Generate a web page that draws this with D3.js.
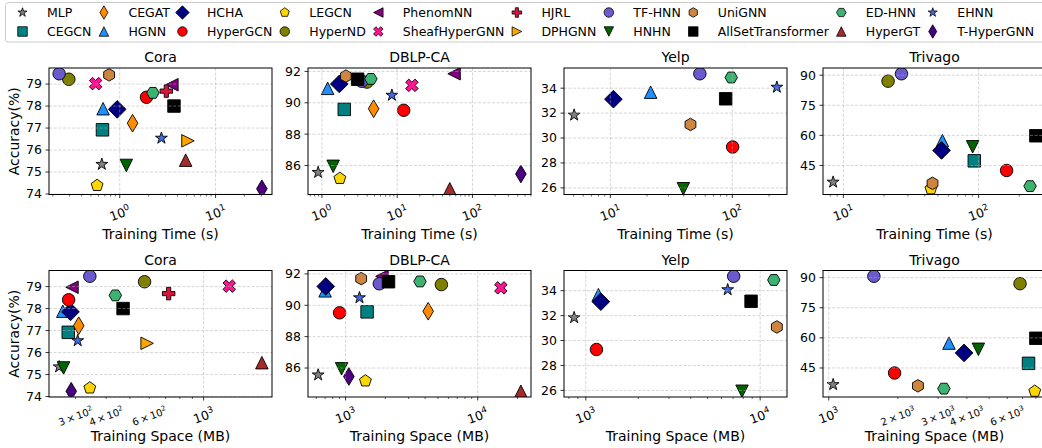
<!DOCTYPE html>
<html>
<head>
<meta charset="utf-8">
<script src="https://cdn.jsdelivr.net/npm/d3@7"></script>
<style>
body { margin: 0; background: #fff; }
svg { font-family: "DejaVu Sans", sans-serif; }
</style>
</head>
<body>
<svg id="svg" width="1042" height="448"></svg>
<script>
var methods = ["MLP", "CEGCN", "CEGAT", "HGNN", "HCHA", "HyperGCN", "LEGCN", "HyperND", "PhenomNN", "SheafHyperGNN",
    "HJRL", "DPHGNN", "TF-HNN", "HNHN", "UniGNN", "AllSetTransformer", "ED-HNN", "HyperGT", "EHNN", "T-HyperGNN"];
var markers = ["*", "s", "d", "^", "D", "o", "p", "o", "<", "X", "P", ">", "o", "v", "h", "s", "H", "^", "*", "d"];
var colors = ["#808080", "#008080", "#ff8c00", "#1e90ff", "#000080", "#ff0000", "#ffd700", "#808000", "#800080", "#ff1493",
    "#dc143c", "#ffa500", "#6a5acd", "#006400", "#cd853f", "#000000", "#3cb371", "#a52a2a", "#4169e1", "#4b0082"];
var datasets = ["Cora", "DBLP-CA", "Yelp", "Trivago"];

// accuracy (%), null = no result
var accCora    = [75.35, 76.92, 77.22, 77.88, 77.85, 78.40, 74.39, 79.22, 78.97, 79.02, 78.68, 76.42, 79.47, 75.30, 79.42, 78.00, 78.60, 75.54, 76.54, 74.24];
var accDblp    = [85.56, 89.58, 89.62, 90.92, 91.20, 89.52, 85.18, 91.32, 91.85, 91.11, null, null, 91.37, 85.95, 91.70, 91.50, 91.52, 84.52, 90.48, 85.46];
var accYelp    = [31.84, null, null, 33.68, 33.12, 29.28, null, null, null, null, null, null, 35.16, 25.93, 31.09, 33.15, 34.86, null, 34.08, null];
var accTrivago = [36.7, 47.3, null, 57.4, 52.5, 42.5, 33.4, 87.0, null, null, null, null, 90.7, 54.3, 36.1, 59.8, 34.7, null, null, null];

// training time (s)
var timeCora    = [0.65, 0.66, 1.36, 0.67, 0.94, 1.90, 0.58, 0.294, 3.5, 0.56, 3.06, 5.15, 0.233, 1.17, 0.774, 3.68, 2.22, 4.87, 2.72, 30.4];
var timeDblp    = [0.89, 1.98, 4.86, 1.19, 1.70, 12.2, 1.73, 3.97, 57, 15.7, null, null, 3.37, 1.41, 2.08, 2.98, 4.47, 50, 8.5, 440];
var timeYelp    = [5.05, null, null, 21.4, 10.6, 100.7, null, null, null, null, null, null, 54.2, 39.7, 45.4, 88.3, 98, null, 232, null];
var timeTrivago = [8.4, 92.9, null, 54, 53.2, 161, 44.4, 21.4, null, null, null, null, 26.9, 90.3, 45.6, 265, 240, null, null, null];

// training space (MB)
var spaceCora    = [257, 280, 309, 266, 286, 281, 343, 574, 290, 1273, 720, 588, 343, 268, null, 469, 436, 1730, 306, 288];
var spaceDblp    = [620, 1455, 4217, 700, 708, 901, 1413, 5310, 1884, 14960, null, null, 1800, 933, 1312, 2113, 3656, 21200, 1274, 1059];
var spaceYelp    = [857, null, null, 1181, 1219, 1151, null, null, null, null, null, null, 7050, 7870, 12470, 8870, 11980, null, 6514, null];
var spaceTrivago = [1045, 7430, null, 3343, 3890, 1937, 7910, 6822, null, null, null, null, 1573, 4490, 2448, 7997, 3178, null, null, null];

var yTicksCora = [74, 75, 76, 77, 78, 79];
var yTicksDblp = [86, 88, 90, 92];
var yTicksYelp = [26, 28, 30, 32, 34];
var yTicksTrivago = [45, 60, 75, 90];

var svg = d3.select("#svg");
var W = 223, H = 126.5;
var colLeft = [49, 308, 564, 823], rowTop = [68, 270.5];
var MS = 12.5;

var accs = [accCora, accDblp, accYelp, accTrivago];
var yTicks = [yTicksCora, yTicksDblp, yTicksYelp, yTicksTrivago];
var rows = [
    {label: "Training Time (s)", values: [timeCora, timeDblp, timeYelp, timeTrivago]},
    {label: "Training Space (MB)", values: [spaceCora, spaceDblp, spaceYelp, spaceTrivago]}
];

function markerPath(type, m) {
    var r = m / 2, q = r * Math.SQRT2;
    function poly(p) { return "M" + p.map(function(v) { return v[0].toFixed(2) + "," + v[1].toFixed(2); }).join("L") + "Z"; }
    function regular(n, rad, rot) {
        return d3.range(n).map(function(k) { var a = rot + k * 2 * Math.PI / n; return [rad * Math.sin(a), -rad * Math.cos(a)]; });
    }
    function scaled(p, s) { return p.map(function(v) { return [v[0] * m / s, -v[1] * m / s]; }); }
    switch (type) {
        case "o": return "M" + r + ",0A" + r + "," + r + " 0 1,1 " + (-r) + ",0A" + r + "," + r + " 0 1,1 " + r + ",0Z";
        case "s": return poly([[-r, -r], [r, -r], [r, r], [-r, r]]);
        case "D": return poly([[0, -q], [q, 0], [0, q], [-q, 0]]);
        case "d": return poly([[0, -q], [0.6 * q, 0], [0, q], [-0.6 * q, 0]]);
        case "^": return poly([[0, -r], [r, r], [-r, r]]);
        case "v": return poly([[0, r], [r, -r], [-r, -r]]);
        case "<": return poly([[-r, 0], [r, -r], [r, r]]);
        case ">": return poly([[r, 0], [-r, -r], [-r, r]]);
        case "p": return poly(regular(5, r, 0));
        case "h": return poly(regular(6, r, 0));
        case "H": return poly(regular(6, r, Math.PI / 6));
        case "*":
            return poly(d3.range(10).map(function(k) {
                var a = k * Math.PI / 5, rad = k % 2 ? r * 0.381966 : r;
                return [rad * Math.sin(a), -rad * Math.cos(a)];
            }));
        case "P": return poly(scaled([[-1, -3], [-1, -1], [-3, -1], [-3, 1], [-1, 1], [-1, 3], [1, 3], [1, 1], [3, 1], [3, -1], [1, -1], [1, -3]], 6));
        case "X": return poly(scaled([[-1, -2], [0, -1], [1, -2], [2, -1], [1, 0], [2, 1], [1, 2], [0, 1], [-1, 2], [-2, 1], [-1, 0], [-2, -1]], 4));
    }
}

// "c x 10^e" label as text with a raised exponent
function powLabel(sel, c, e, fs) {
    var t = sel.append("text").attr("font-size", fs).attr("text-anchor", "middle").attr("fill", "#000");
    t.append("tspan").text((c === 1 ? "" : c + "\u2009\u00d7\u200910") + (c === 1 ? "10" : ""));
    t.append("tspan").attr("font-size", fs * 0.7).attr("dy", -fs * 0.42).text(e);
    return t;
}

function drawPanel(g, xs, ys, yt, title, xlabel, showYLabel, id) {
    var pts = [];
    methods.forEach(function(m, i) {
        if (xs[i] != null && ys[i] != null) pts.push({i: i, x: xs[i], y: ys[i]});
    });
    var lx = d3.extent(pts, function(d) { return Math.log10(d.x); });
    var ly = d3.extent(pts, function(d) { return d.y; });
    var mx = (lx[1] - lx[0]) * 0.05, my = (ly[1] - ly[0]) * 0.05;
    var x = d3.scaleLog().domain([Math.pow(10, lx[0] - mx), Math.pow(10, lx[1] + mx)]).range([0, W]);
    var y = d3.scaleLinear().domain([ly[0] - my, ly[1] + my]).range([H, 0]);

    g.append("clipPath").attr("id", id).append("rect").attr("width", W).attr("height", H);

    // points
    g.append("g").attr("clip-path", "url(#" + id + ")")
        .selectAll("path").data(pts).enter().append("path")
        .attr("transform", function(d) { return "translate(" + x(d.x) + "," + y(d.y) + ")"; })
        .attr("d", function(d) { return markerPath(markers[d.i], MS); })
        .attr("fill", function(d) { return colors[d.i]; })
        .attr("stroke", "#000")
        .attr("stroke-width", 0.9);

    // log ticks: majors at 10^k, minors at c*10^k
    var d0 = x.domain()[0], d1 = x.domain()[1];
    var numdec = Math.log10(d1) - Math.log10(d0);
    var ticks = [];
    for (var e = Math.floor(Math.log10(d0)); e <= Math.ceil(Math.log10(d1)); e++) {
        for (var c = 1; c <= 9; c++) {
            var v = c * Math.pow(10, e);
            if (v >= d0 && v <= d1) ticks.push({v: v, c: c, e: e, major: c === 1,
                label: c === 1 || (numdec <= 1 && [2, 3, 4, 6].indexOf(c) >= 0)});
        }
    }

    // grid (drawn over the points, like the original)
    var grid = g.append("g").attr("stroke", "#b0b0b0").attr("stroke-opacity", 0.65)
        .attr("stroke-width", 0.8).attr("stroke-dasharray", "3,1.6");
    ticks.filter(function(t) { return t.major; }).forEach(function(t) {
        grid.append("line").attr("x1", x(t.v)).attr("x2", x(t.v)).attr("y1", 0).attr("y2", H);
    });
    yt.forEach(function(v) {
        grid.append("line").attr("x1", 0).attr("x2", W).attr("y1", y(v)).attr("y2", y(v));
    });

    // x ticks and rotated labels
    ticks.forEach(function(t) {
        g.append("line").attr("x1", x(t.v)).attr("x2", x(t.v)).attr("y1", H).attr("y2", H + (t.major ? 3.5 : 2))
            .attr("stroke", "#000").attr("stroke-width", t.major ? 0.8 : 0.6);
        if (!t.label) return;
        var lab = powLabel(g, t.c, t.e, t.major ? 12.5 : 10);
        var bb = lab.node().getBBox();
        var a = 20 * Math.PI / 180;
        var rh = bb.width * Math.sin(a) + bb.height * Math.cos(a);
        lab.attr("transform", "translate(" + x(t.v) + "," + (H + 7 + rh / 2) + ") rotate(-20) translate(" +
            (-(bb.x + bb.width / 2)) + "," + (-(bb.y + bb.height / 2)) + ")");
    });

    // y ticks
    yt.forEach(function(v) {
        g.append("line").attr("x1", -3.5).attr("x2", 0).attr("y1", y(v)).attr("y2", y(v))
            .attr("stroke", "#000").attr("stroke-width", 0.8);
        g.append("text").attr("x", -7).attr("y", y(v)).attr("dy", "0.35em")
            .attr("text-anchor", "end").attr("font-size", 12.5).text(v);
    });

    g.append("rect").attr("width", W).attr("height", H)
        .attr("fill", "none").attr("stroke", "#000").attr("stroke-width", 1);

    g.append("text").attr("x", W / 2).attr("y", -6).attr("text-anchor", "middle")
        .attr("font-size", 14).text(title);
    g.append("text").attr("x", W / 2).attr("y", H + 44).attr("text-anchor", "middle")
        .attr("font-size", 14).text(xlabel);
    if (showYLabel) {
        g.append("text").attr("transform", "translate(" + (14 - colLeft[0]) + "," + (H / 2) + ") rotate(-90)")
            .attr("dy", "0.35em").attr("text-anchor", "middle").attr("font-size", 14).text("Accuracy(%)");
    }
}

rows.forEach(function(row, r) {
    datasets.forEach(function(name, c) {
        var g = svg.append("g").attr("transform", "translate(" + colLeft[c] + "," + rowTop[r] + ")");
        drawPanel(g, row.values[c], accs[c], yTicks[c], name, row.label, c === 0, "clip" + r + c);
    });
});

// legend: two rows, filled column by column
var legend = svg.append("g");
legend.append("rect").attr("x", 5.5).attr("y", 2.5).attr("width", 1060).attr("height", 39.5)
    .attr("rx", 3).attr("fill", "#fff").attr("stroke", "#cccccc");
var textX = 47, legRowY = [12.5, 31.5];
for (var col = 0; col < methods.length / 2; col++) {
    var maxW = 0;
    for (var k = 0; k < 2; k++) {
        var i = col * 2 + k;
        legend.append("path").attr("transform", "translate(" + (textX - 24.5) + "," + legRowY[k] + ")")
            .attr("d", markerPath(markers[i], 9.5)).attr("fill", colors[i])
            .attr("stroke", "#000").attr("stroke-width", 0.8);
        var t = legend.append("text").attr("x", textX).attr("y", legRowY[k]).attr("dy", "0.35em")
            .attr("font-size", 12.5).text(methods[i]);
        maxW = Math.max(maxW, t.node().getComputedTextLength());
    }
    textX += maxW + 37;
}
</script>
</body>
</html>
